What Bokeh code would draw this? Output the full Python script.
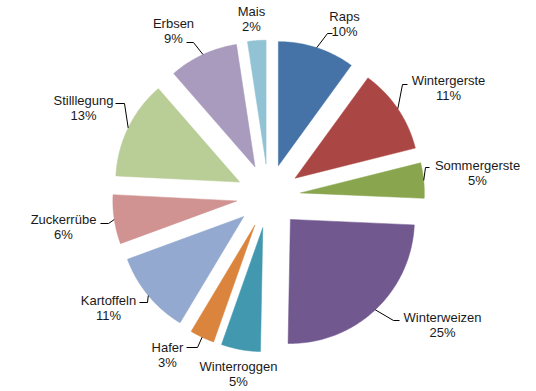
import numpy as np
from bokeh.plotting import figure
from bokeh.models import Range1d, ColumnDataSource
from bokeh.embed import file_html
from bokeh.resources import INLINE
from bokeh.core.properties import value

# ---- data ----
categories = ["Raps", "Wintergerste", "Sommergerste", "Winterweizen", "Winterroggen",
              "Hafer", "Kartoffeln", "Zuckerrübe", "Stilllegung", "Erbsen", "Mais"]
shares = [10.0, 11.1, 4.6, 24.6, 5.1, 3.2, 10.8, 6.4, 12.8, 9.0, 2.4]
colors = ["#4572A7", "#AA4643", "#89A54E", "#71588F", "#4198AF", "#DB843D",
          "#93A9CF", "#D19392", "#B9CD96", "#A99BBD", "#91C3D5"]

# ---- layout (screen-like coordinates, y downwards) ----
W, H = 536, 391
CX, CY = 268.0, 195.6
R = 124.0
EXPLODE = 32.0
FONT = "Liberation Sans"
LINE_GAP = 15

label_pos = {
    "Raps": (344, 16), "Wintergerste": (448, 80), "Sommergerste": (477, 165),
    "Winterweizen": (442, 317), "Winterroggen": (238, 366), "Hafer": (167, 347),
    "Kartoffeln": (108, 300), "Zuckerrübe": (63, 219), "Stilllegung": (83, 100),
    "Erbsen": (173, 23), "Mais": (251, 11),
}
leader = {
    "Raps": [(327, 33), (332, 33)],
    "Wintergerste": [(402, 84), (407, 84)],
    "Sommergerste": [(425, 167), (429, 167)],
    "Winterweizen": [(393, 320), (399, 320)],
    "Hafer": [(197, 347), (186, 347)],
    "Kartoffeln": [(147, 302), (139, 302)],
    "Zuckerrübe": [(108, 223), (100, 223)],
    "Stilllegung": [(124, 103), (115, 103)],
    "Erbsen": [(193, 42), (186, 42)],
}

total = sum(shares)
p = figure(width=W, height=H, output_backend="svg", toolbar_location=None,
           x_range=Range1d(0, W), y_range=Range1d(H, 0),
           x_axis_location=None, y_axis_location=None, min_border=0,
           outline_line_color=None)
p.grid.visible = False
p.background_fill_color = "white"

xs, ys = [], []
lx, ly = [], []
cum = 0.0
for cat, v in zip(categories, shares):
    a0 = cum / total * 2 * np.pi
    cum += v
    a1 = cum / total * 2 * np.pi
    mid = (a0 + a1) / 2
    tx = CX + EXPLODE * np.sin(mid)
    ty = CY - EXPLODE * np.cos(mid)
    t = np.linspace(a0, a1, 80)
    xs.append([tx] + list(tx + R * np.sin(t)))
    ys.append([ty] + list(ty - R * np.cos(t)))
    if cat in leader:
        sx = tx + R * np.sin(mid)
        sy = ty - R * np.cos(mid)
        pts = [(sx, sy)] + leader[cat]
        lx.append([q[0] for q in pts])
        ly.append([q[1] for q in pts])

p.patches(xs=xs, ys=ys, fill_color=colors, line_color=colors, line_width=0.5)
p.multi_line(xs=lx, ys=ly, line_color="#000000", line_width=1)

names = ColumnDataSource(dict(
    x=[label_pos[c][0] for c in categories],
    y=[label_pos[c][1] for c in categories],
    t=categories))
pcts = ColumnDataSource(dict(
    x=[label_pos[c][0] for c in categories],
    y=[label_pos[c][1] + LINE_GAP for c in categories],
    t=[f"{int(v / total * 100 + 0.5)}%" for v in shares]))
for src in (names, pcts):
    p.text(x="x", y="y", text="t", source=src, text_align="center",
           text_baseline="middle", text_font=value(FONT),
           text_font_size="13px", text_color="#1a1a1a")

open("out.html", "w").write(file_html(p, INLINE))
